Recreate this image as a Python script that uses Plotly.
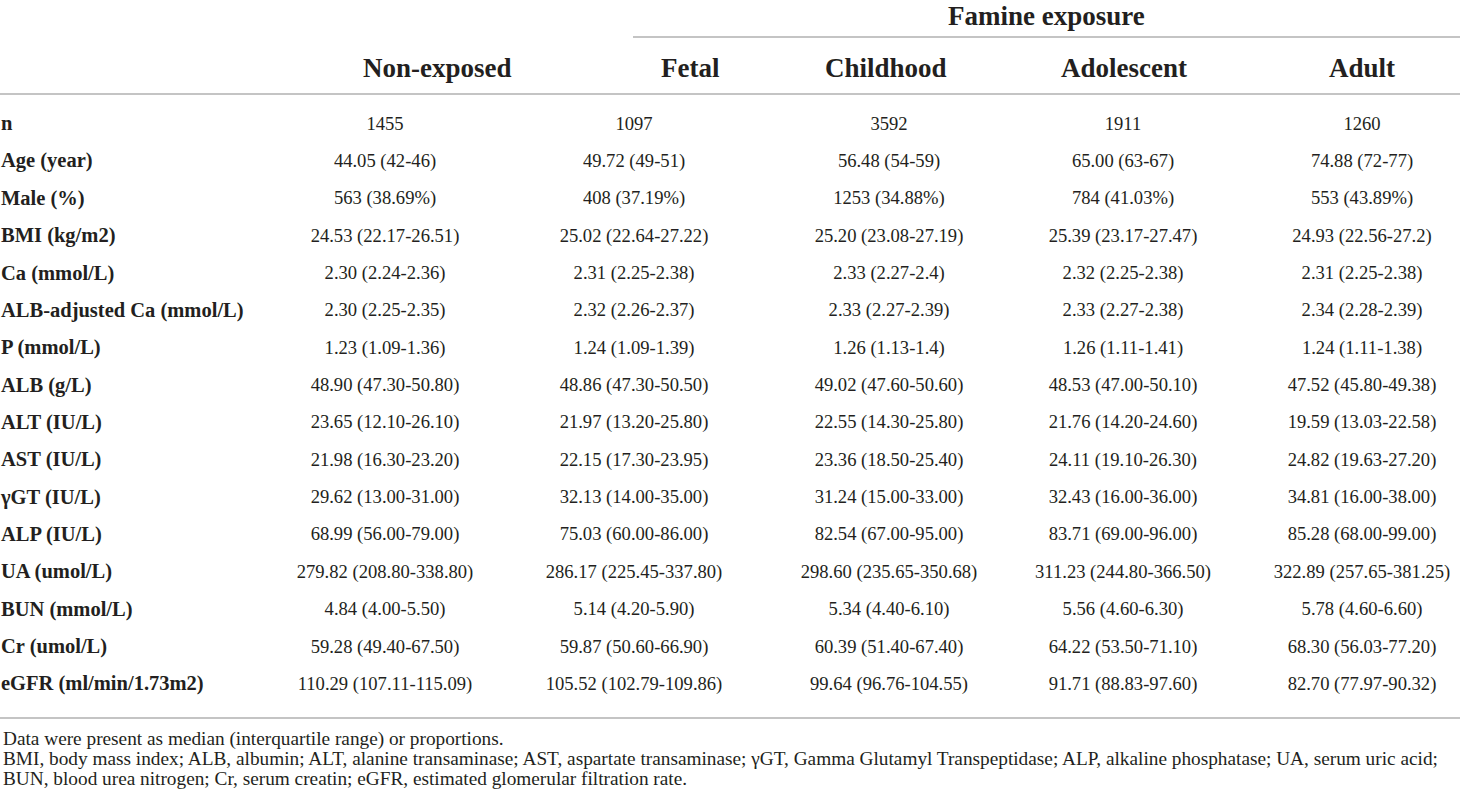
import plotly.graph_objects as go

# ---- table content ----
row_labels = [
    "n", "Age (year)", "Male (%)", "BMI (kg/m2)", "Ca (mmol/L)",
    "ALB-adjusted Ca (mmol/L)", "P (mmol/L)", "ALB (g/L)", "ALT (IU/L)",
    "AST (IU/L)", "γGT (IU/L)", "ALP (IU/L)", "UA (umol/L)",
    "BUN (mmol/L)", "Cr (umol/L)", "eGFR (ml/min/1.73m2)",
]

group_labels = ["Non-exposed", "Fetal", "Childhood", "Adolescent", "Adult"]
spanner_label = "Famine exposure"

non_exposed = [
    "1455", "44.05 (42-46)", "563 (38.69%)", "24.53 (22.17-26.51)",
    "2.30 (2.24-2.36)", "2.30 (2.25-2.35)", "1.23 (1.09-1.36)",
    "48.90 (47.30-50.80)", "23.65 (12.10-26.10)", "21.98 (16.30-23.20)",
    "29.62 (13.00-31.00)", "68.99 (56.00-79.00)", "279.82 (208.80-338.80)",
    "4.84 (4.00-5.50)", "59.28 (49.40-67.50)", "110.29 (107.11-115.09)",
]
fetal = [
    "1097", "49.72 (49-51)", "408 (37.19%)", "25.02 (22.64-27.22)",
    "2.31 (2.25-2.38)", "2.32 (2.26-2.37)", "1.24 (1.09-1.39)",
    "48.86 (47.30-50.50)", "21.97 (13.20-25.80)", "22.15 (17.30-23.95)",
    "32.13 (14.00-35.00)", "75.03 (60.00-86.00)", "286.17 (225.45-337.80)",
    "5.14 (4.20-5.90)", "59.87 (50.60-66.90)", "105.52 (102.79-109.86)",
]
childhood = [
    "3592", "56.48 (54-59)", "1253 (34.88%)", "25.20 (23.08-27.19)",
    "2.33 (2.27-2.4)", "2.33 (2.27-2.39)", "1.26 (1.13-1.4)",
    "49.02 (47.60-50.60)", "22.55 (14.30-25.80)", "23.36 (18.50-25.40)",
    "31.24 (15.00-33.00)", "82.54 (67.00-95.00)", "298.60 (235.65-350.68)",
    "5.34 (4.40-6.10)", "60.39 (51.40-67.40)", "99.64 (96.76-104.55)",
]
adolescent = [
    "1911", "65.00 (63-67)", "784 (41.03%)", "25.39 (23.17-27.47)",
    "2.32 (2.25-2.38)", "2.33 (2.27-2.38)", "1.26 (1.11-1.41)",
    "48.53 (47.00-50.10)", "21.76 (14.20-24.60)", "24.11 (19.10-26.30)",
    "32.43 (16.00-36.00)", "83.71 (69.00-96.00)", "311.23 (244.80-366.50)",
    "5.56 (4.60-6.30)", "64.22 (53.50-71.10)", "91.71 (88.83-97.60)",
]
adult = [
    "1260", "74.88 (72-77)", "553 (43.89%)", "24.93 (22.56-27.2)",
    "2.31 (2.25-2.38)", "2.34 (2.28-2.39)", "1.24 (1.11-1.38)",
    "47.52 (45.80-49.38)", "19.59 (13.03-22.58)", "24.82 (19.63-27.20)",
    "34.81 (16.00-38.00)", "85.28 (68.00-99.00)", "322.89 (257.65-381.25)",
    "5.78 (4.60-6.60)", "68.30 (56.03-77.20)", "82.70 (77.97-90.32)",
]

footnotes = [
    "Data were present as median (interquartile range) or proportions.",
    "BMI, body mass index; ALB, albumin; ALT, alanine transaminase; AST, aspartate transaminase; "
    "γGT, Gamma Glutamyl Transpeptidase; ALP, alkaline phosphatase; UA, serum uric acid;",
    "BUN, blood urea nitrogen; Cr, serum creatin; eGFR, estimated glomerular filtration rate.",
]

# ---- layout (pixel coordinates on hidden axes) ----
W, H = 1460, 803
FONT = "Liberation Serif"
INK = "#231f20"
RULE = "#c4c4c4"

row_y0, row_step = 125, 37.35
row_y = [row_y0 + i * row_step for i in range(len(row_labels))]
value_x = [385, 634, 889, 1123, 1362]
header_x = [437, 690, 886, 1124, 1362]
header_y = 68

columns = [non_exposed, fetal, childhood, adolescent, adult]

fig = go.Figure()

# row labels (bold, left aligned)
fig.add_trace(go.Scatter(
    x=[1] * len(row_labels), y=row_y,
    text=[f"<b>{s}</b>" for s in row_labels],
    mode="text", textposition="middle right",
    textfont=dict(family=FONT, size=20.5, color=INK),
    hoverinfo="skip", showlegend=False,
))

# body cells
for cx, col in zip(value_x, columns):
    fig.add_trace(go.Scatter(
        x=[cx] * len(col), y=row_y, text=col,
        mode="text", textposition="middle center",
        textfont=dict(family=FONT, size=18.6, color=INK),
        hoverinfo="skip", showlegend=False,
    ))

annotations = []
for hx, lab in zip(header_x, group_labels):
    annotations.append(dict(
        x=hx, y=header_y, xref="x", yref="y", text=f"<b>{lab}</b>",
        showarrow=False, xanchor="center", yanchor="middle",
        font=dict(family=FONT, size=27, color=INK),
    ))
annotations.append(dict(
    x=1046, y=16, xref="x", yref="y", text=f"<b>{spanner_label}</b>",
    showarrow=False, xanchor="center", yanchor="middle",
    font=dict(family=FONT, size=27, color=INK),
))
for i, note in enumerate(footnotes):
    annotations.append(dict(
        x=1, y=739 + i * 19.5, xref="x", yref="y", text=note,
        showarrow=False, xanchor="left", yanchor="middle",
        font=dict(family=FONT, size=19.3, color=INK),
    ))

shapes = [
    dict(type="line", x0=633, x1=W, y0=37, y1=37, xref="x", yref="y",
         line=dict(color=RULE, width=2)),
    dict(type="line", x0=0, x1=W, y0=94, y1=94, xref="x", yref="y",
         line=dict(color=RULE, width=2)),
    dict(type="line", x0=0, x1=W, y0=718, y1=718, xref="x", yref="y",
         line=dict(color=RULE, width=2)),
]

fig.update_xaxes(range=[0, W], visible=False, fixedrange=True)
fig.update_yaxes(range=[H, 0], visible=False, fixedrange=True)
fig.update_layout(
    width=W, height=H,
    margin=dict(l=0, r=0, t=0, b=0),
    paper_bgcolor="white", plot_bgcolor="white",
    annotations=annotations, shapes=shapes,
    showlegend=False,
)

# drop the default page margin so the figure sits flush with the window
fig.write_html("out.html", config={"displayModeBar": False},
               post_script="document.body.style.margin='0';")
